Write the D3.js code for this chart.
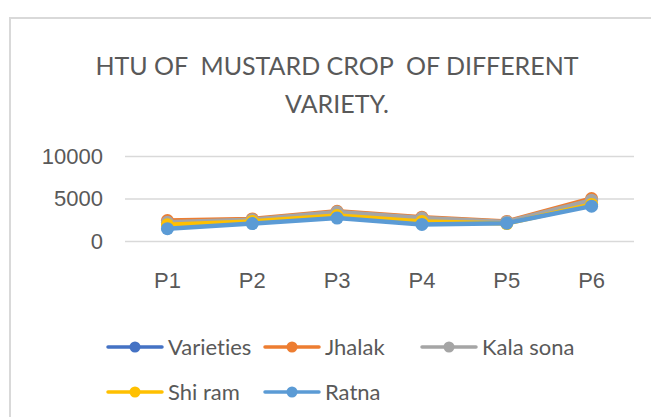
<!DOCTYPE html>
<html>
<head>
<meta charset="utf-8">
<script src="https://cdn.jsdelivr.net/npm/d3@7"></script>
<style>
  body { margin: 0; background: #fff; }
  svg { display: block; font-family: Lato, "Open Sans", sans-serif; font-variant-ligatures: none; }
  .grid line { stroke: #d9d9d9; stroke-width: 1.5; }
  .axis text { fill: #595959; }
</style>
</head>
<body>
<svg id="chart" width="651" height="417"></svg>
<script>
// chart values
const categories = ["P1", "P2", "P3", "P4", "P5", "P6"];
const seriesNames = ["Varieties", "Jhalak", "Kala sona", "Shi ram", "Ratna"];
const varieties = [null, null, null, null, null, null];
const jhalak   = [2400, 2600, 3500, 2800, 2300, 5000];
const kalaSona = [2200, 2500, 3400, 2700, 2250, 4800];
const shiRam   = [1900, 2300, 3000, 2300, 2050, 4300];
const ratna    = [1450, 2050, 2700, 1950, 2100, 4100];
const yTicks = [0, 5000, 10000];
const colors = ["#4472C4", "#ED7D31", "#A5A5A5", "#FFC000", "#5B9BD5"];

const allSeries = [varieties, jhalak, kalaSona, shiRam, ratna];

let svg = d3.select("#chart");
let margin = {top: 156, right: 17, bottom: 176, left: 125};
let width = +svg.attr("width") - margin.left - margin.right;
let height = +svg.attr("height") - margin.top - margin.bottom;

// chart frame
svg.append("rect")
	.attr("x", 10).attr("y", 18)
	.attr("width", 700).attr("height", 500)
	.attr("fill", "none")
	.attr("stroke", "#d9d9d9")
	.attr("stroke-width", 2);

// title
let title = svg.append("text")
	.attr("text-anchor", "middle")
	.attr("fill", "#595959")
	.style("font-size", "25px")
	.style("white-space", "pre");
title.append("tspan").attr("x", 337).attr("y", 75).text("HTU OF  MUSTARD CROP  OF DIFFERENT");
title.append("tspan").attr("x", 337).attr("y", 113).text("VARIETY.");

let g = svg.append("g").attr("transform", "translate(" + margin.left + "," + margin.top + ")");

let x = d3.scaleBand().domain(categories).range([0, width]);
let y = d3.scaleLinear().domain([0, 10000]).range([height, 0]);

// gridlines
g.append("g")
	.attr("class", "grid")
	.call(d3.axisLeft(y).tickValues(yTicks).tickSize(-width).tickFormat(""))
	.call(a => a.select(".domain").remove());

// y axis labels
g.append("g")
	.attr("class", "axis")
	.call(d3.axisLeft(y).tickValues(yTicks).tickSize(0).tickPadding(22).tickFormat(d3.format("d")))
	.call(a => a.select(".domain").remove())
	.selectAll("text").style("font-size", "22px");

// x axis labels
g.append("g")
	.attr("class", "axis")
	.attr("transform", "translate(0," + height + ")")
	.call(d3.axisBottom(x).tickSize(0).tickPadding(31))
	.call(a => a.select(".domain").remove())
	.selectAll("text").style("font-size", "22px");

let cx = c => x(c) + x.bandwidth() / 2;

let line = d3.line()
	.defined(d => d.v != null)
	.x(d => cx(d.c))
	.y(d => y(d.v));

allSeries.forEach((vals, i) => {
	let pts = categories.map((c, j) => ({c: c, v: vals[j]}));
	g.append("path")
		.attr("d", line(pts))
		.attr("fill", "none")
		.attr("stroke", colors[i])
		.attr("stroke-width", 4.5)
		.attr("stroke-linejoin", "round");
	g.selectAll(".dot" + i)
		.data(pts.filter(d => d.v != null))
		.enter().append("circle")
		.attr("cx", d => cx(d.c))
		.attr("cy", d => y(d.v))
		.attr("r", 6.5)
		.attr("fill", colors[i]);
});

// legend
let legendPos = [[108, 347], [265, 347], [422, 347], [108, 392], [265, 392]];
let legend = svg.append("g");
seriesNames.forEach((name, i) => {
	let lx = legendPos[i][0], ly = legendPos[i][1];
	legend.append("line")
		.attr("x1", lx).attr("x2", lx + 54)
		.attr("y1", ly).attr("y2", ly)
		.attr("stroke", colors[i])
		.attr("stroke-width", 3.5)
		.attr("stroke-linecap", "round");
	legend.append("circle")
		.attr("cx", lx + 27).attr("cy", ly).attr("r", 5.5)
		.attr("fill", colors[i]);
	legend.append("text")
		.attr("x", lx + 60).attr("y", ly)
		.attr("dy", "0.35em")
		.attr("fill", "#595959")
		.style("font-size", "22px")
		.text(name);
});
</script>
</body>
</html>
